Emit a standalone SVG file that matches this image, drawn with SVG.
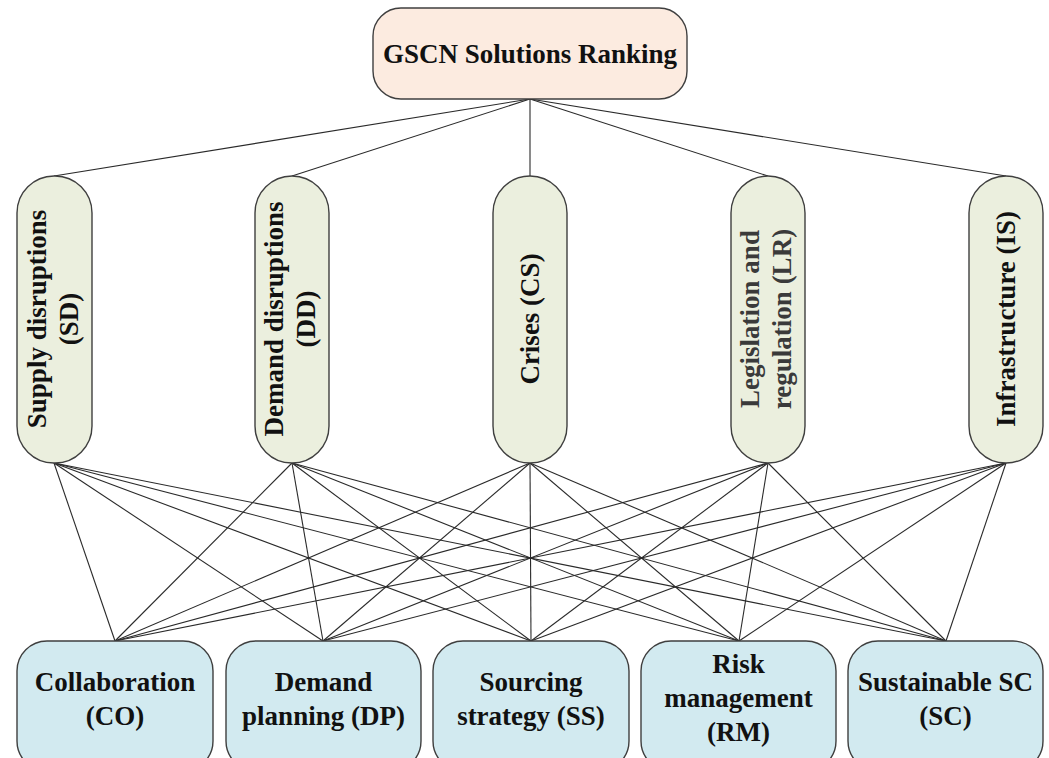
<svg xmlns="http://www.w3.org/2000/svg" width="1049" height="758" viewBox="0 0 1049 758">
<style>
.box{stroke:#3f3f3f;stroke-width:1.4}
.top{fill:#fcebe0}
.mid{fill:#ebefde}
.bot{fill:#d2eaf0}
text{font-family:"Liberation Serif","Times New Roman",serif;font-weight:bold;font-size:27px;fill:#111;text-anchor:middle}
.lines line{stroke:#2a2a2a;stroke-width:1.1}
</style>
<rect width="1049" height="758" fill="#ffffff"/>
<g id="connectors" class="lines">
<line x1="530" y1="99" x2="54" y2="176"/>
<line x1="530" y1="99" x2="292" y2="176"/>
<line x1="530" y1="99" x2="530" y2="176"/>
<line x1="530" y1="99" x2="768" y2="176"/>
<line x1="530" y1="99" x2="1006" y2="176"/>
<line x1="54" y1="463" x2="115" y2="641"/>
<line x1="54" y1="463" x2="323" y2="641"/>
<line x1="54" y1="463" x2="531" y2="641"/>
<line x1="54" y1="463" x2="739" y2="641"/>
<line x1="54" y1="463" x2="946" y2="641"/>
<line x1="292" y1="463" x2="115" y2="641"/>
<line x1="292" y1="463" x2="323" y2="641"/>
<line x1="292" y1="463" x2="531" y2="641"/>
<line x1="292" y1="463" x2="739" y2="641"/>
<line x1="292" y1="463" x2="946" y2="641"/>
<line x1="530" y1="463" x2="115" y2="641"/>
<line x1="530" y1="463" x2="323" y2="641"/>
<line x1="530" y1="463" x2="531" y2="641"/>
<line x1="530" y1="463" x2="739" y2="641"/>
<line x1="530" y1="463" x2="946" y2="641"/>
<line x1="768" y1="463" x2="115" y2="641"/>
<line x1="768" y1="463" x2="323" y2="641"/>
<line x1="768" y1="463" x2="531" y2="641"/>
<line x1="768" y1="463" x2="739" y2="641"/>
<line x1="768" y1="463" x2="946" y2="641"/>
<line x1="1006" y1="463" x2="115" y2="641"/>
<line x1="1006" y1="463" x2="323" y2="641"/>
<line x1="1006" y1="463" x2="531" y2="641"/>
<line x1="1006" y1="463" x2="739" y2="641"/>
<line x1="1006" y1="463" x2="946" y2="641"/>
</g>
<g id="goal">
<rect class="box top" x="373" y="8" width="314" height="91" rx="28"/>
<text x="530" y="63">GSCN Solutions Ranking</text>
</g>
<g id="SD">
<rect class="box mid" x="17" y="176" width="75" height="287" rx="37"/>
<text transform="translate(54.5,319) rotate(-90)"><tspan x="0" y="-9">Supply disruptions</tspan><tspan x="0" y="23">(SD)</tspan></text>
</g>
<g id="DD">
<rect class="box mid" x="255" y="176" width="74" height="287" rx="37"/>
<text transform="translate(292,319) rotate(-90)"><tspan x="0" y="-9">Demand disruptions</tspan><tspan x="0" y="23">(DD)</tspan></text>
</g>
<g id="CS">
<rect class="box mid" x="493" y="176" width="74" height="287" rx="37"/>
<text transform="translate(530,319) rotate(-90)" x="0" y="9">Crises (CS)</text>
</g>
<g id="LR">
<rect class="box mid" x="731" y="176" width="74" height="287" rx="37"/>
<text transform="translate(768,319) rotate(-90)" style="fill:#3a3a3a"><tspan x="0" y="-9">Legislation and</tspan><tspan x="0" y="23">regulation (LR)</tspan></text>
</g>
<g id="IS">
<rect class="box mid" x="969" y="176" width="74" height="287" rx="37"/>
<text transform="translate(1006,319) rotate(-90)" x="0" y="9">Infrastructure (IS)</text>
</g>
<g id="CO">
<rect class="box bot" x="17" y="641" width="196" height="130" rx="30"/>
<text><tspan x="115" y="691">Collaboration</tspan><tspan x="115" y="725">(CO)</tspan></text>
</g>
<g id="DP">
<rect class="box bot" x="226" y="641" width="195" height="130" rx="30"/>
<text><tspan x="323.5" y="691">Demand</tspan><tspan x="323.5" y="725">planning (DP)</tspan></text>
</g>
<g id="SS">
<rect class="box bot" x="433" y="641" width="196" height="130" rx="30"/>
<text><tspan x="531" y="691">Sourcing</tspan><tspan x="531" y="725">strategy (SS)</tspan></text>
</g>
<g id="RM">
<rect class="box bot" x="641" y="641" width="195" height="130" rx="30"/>
<text><tspan x="738.5" y="673">Risk</tspan><tspan x="738.5" y="707">management</tspan><tspan x="738.5" y="741">(RM)</tspan></text>
</g>
<g id="SC">
<rect class="box bot" x="848" y="641" width="195" height="130" rx="30"/>
<text><tspan x="945.5" y="691">Sustainable SC</tspan><tspan x="945.5" y="725">(SC)</tspan></text>
</g>
</svg>
